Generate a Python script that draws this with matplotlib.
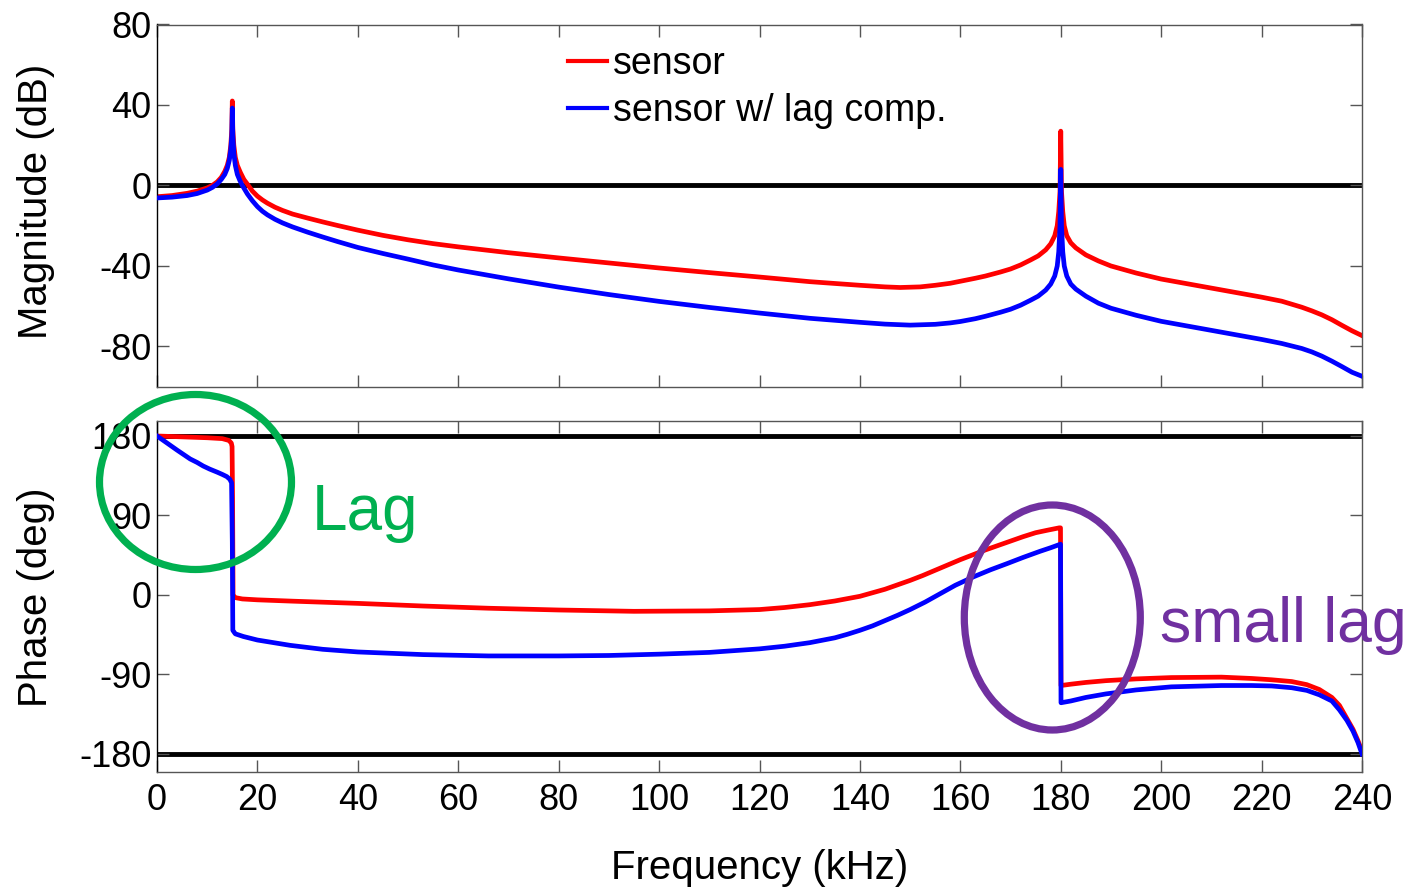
import matplotlib
matplotlib.use("Agg")
import matplotlib.pyplot as plt
from matplotlib.patches import Ellipse

plt.rcParams['font.family'] = ['Liberation Sans', 'DejaVu Sans']

W, H = 1413, 889

# ---------------- data ----------------
mag_red_f = [0, 3, 6, 8, 10, 11, 12, 12.8, 13.5, 14, 14.4, 14.7, 14.9, 15.0,
             15.1, 15.3, 15.6, 16, 16.6, 17.3, 18.2, 19, 20, 21, 22, 23.5, 25, 27, 30, 33, 36,
             40, 45, 50, 55, 60, 70, 80, 90, 100, 110, 120, 130, 140, 145, 148, 152, 155, 158,
             160, 163, 165, 168, 170, 172, 174, 175.5, 177, 178, 178.8, 179.3, 179.6, 179.85,
             180.0, 180.15, 180.4, 180.7, 181.2, 182, 183, 185, 187.5, 190, 195, 200, 210, 220,
             224, 228, 230, 232, 234, 236, 238, 240]
mag_red = [-5.6, -5.0, -3.9, -2.8, -1.2, 0, 1.8, 4, 7, 10, 14, 20, 28, 42,
           28, 20, 14, 10, 6.5, 3, 0, -2.8, -5.3, -7.2, -8.8, -10.8, -12.4, -14.2, -16.2, -18.1, -19.9,
           -22.2, -24.8, -27, -28.9, -30.5, -33.4, -36, -38.5, -41, -43.3, -45.5, -47.8, -49.6, -50.4, -50.7, -50.4, -49.6, -48.6,
           -47.6, -46.1, -45, -43, -41.5, -39.5, -37, -35, -32, -29, -25, -20, -13, -3,
           27, -3, -13, -20, -25, -28.5, -31, -34.5, -37.5, -40, -43.5, -46.5, -51, -55.5,
           -57.5, -60.5, -62.3, -64.3, -66.7, -69.5, -72.2, -74.6]

mag_blue_f = [0, 3, 6, 8, 10, 11, 12, 12.8, 13.5, 14, 14.4, 14.7, 14.9, 15.0,
              15.1, 15.3, 15.6, 16, 16.5, 17, 18, 19, 20, 21, 22, 23.5, 25, 27, 30, 33, 36,
              40, 45, 50, 55, 60, 70, 80, 90, 100, 110, 120, 130, 140, 145, 150, 155, 158,
              160, 163, 165, 168, 170, 172, 174, 175.5, 177, 178, 178.8, 179.3, 179.6, 179.85,
              180.0, 180.15, 180.4, 180.7, 181.2, 182, 183, 185, 187.5, 190, 195, 200, 210, 220,
              224, 228, 230, 232, 234, 236, 238, 240]
mag_blue = [-6.2, -5.8, -5.0, -4.0, -2.3, -1.0, 0.8, 3, 5.5, 8.5, 12.5, 18, 25, 38.5,
            25, 16, 10, 5.5, 2.5, 0, -4.2, -7.6, -10.5, -12.8, -14.6, -16.8, -18.6, -20.6, -23.2, -25.6, -27.9,
            -30.8, -33.8, -36.6, -39.5, -42, -46.4, -50.5, -54.2, -57.6, -60.6, -63.4, -66, -68, -68.9, -69.4, -69, -68.3,
            -67.6, -66.2, -65, -63, -61.5, -59.5, -57, -55, -52, -49, -45, -40, -33, -20,
            8, -20, -33, -40, -45, -49, -51.5, -55, -58.5, -61, -64.5, -67.5, -72, -76.5,
            -78.5, -81, -82.7, -84.8, -87.3, -90, -92.8, -94.8]

ph_red_f = [0, 5, 10, 13, 14.3, 14.8, 14.95, 15.05, 15.15, 15.6, 17, 20, 27, 40, 53, 66, 80, 95,
            110, 120, 125, 130, 135, 140, 142.5, 145, 147.5, 150, 152.5, 155, 157.5, 160, 162.5,
            165, 167.5, 170, 172.5, 175, 177.5, 179.7, 179.95,
            180.05, 182, 185, 189, 195, 202, 212, 218, 222, 226, 229, 231.5, 234, 235.5, 237,
            238.2, 239.2, 240]
ph_red = [180, 179, 178, 177, 175, 172, 168, 110, 0, -3, -4.5, -5.5, -7, -9.5, -12.5, -15, -17, -18.5,
          -18, -16.5, -14.2, -11, -6.8, -1.5, 2.5, 6.5, 11.5, 16.5, 22, 28, 34, 40, 45.5,
          51, 56, 61, 66, 70.5, 73.5, 76, 76,
          -102.5, -101, -99, -97, -95, -93.5, -93, -94.5, -96, -98, -101.5, -107, -116, -125, -140,
          -152, -165, -177]

ph_blue_f = [0, 1, 2, 3, 4, 5.3, 6.6, 8, 9.2, 10.5, 12, 13, 13.9, 14.5, 14.85, 15.0, 15.1, 15.6,
             17.2, 20, 26.5, 33, 40, 53, 66, 80, 90, 100, 110, 115, 120, 125, 130, 135, 137.5,
             140, 142.5, 145, 147.5, 150, 153, 156, 159, 162.6, 166, 169.3, 172.5, 175.9, 178,
             179.7, 179.95, 180.05, 182, 185, 189, 195, 202, 212, 218, 222, 226, 229, 231.5,
             234, 235.5, 237, 238.2, 239.2, 240]
ph_blue = [180, 176, 172, 168, 164, 159, 154, 150, 146, 142.5, 139, 136.5, 134, 131, 127, 60, -40, -44,
           -47, -51, -57, -61.5, -64.5, -67.5, -69, -69, -68.5, -67, -65, -63, -61, -58, -54, -48.5, -44.5,
           -40, -35, -29, -23, -16.5, -8, 1.5, 11, 20.5, 28.5, 35.5, 42.5, 49.5, 53.5,
           57, 57.5, -122, -120, -116, -112, -107.5, -104, -102.5, -102.5, -103, -105, -108, -113,
           -120, -130, -142, -154, -167, -180]

xticks = list(range(0, 241, 20))
mag_ticks = [-80, -40, 0, 40, 80]
ph_ticks = [-180, -90, 0, 90, 180]
legend_labels = ['sensor', 'sensor w/ lag comp.']
ref_mag = [0]
ref_ph = [180, -180]

# ---------------- figure ----------------
fig = plt.figure(figsize=(W / 100, H / 100), dpi=100)

def frac_axes(left, top, right, bottom):
    return fig.add_axes([left / W, 1 - bottom / H, (right - left) / W, (bottom - top) / H])

ax1 = frac_axes(157, 24.5, 1362, 386.7)
ax2 = frac_axes(157, 420.7, 1362, 772)

RED = '#FF0000'
BLUE = '#0000FF'
LW = 3.4

for y in ref_mag:
    ax1.axhline(y, color='black', lw=3.5, zorder=1)
l1, = ax1.plot(mag_red_f, mag_red, color=RED, lw=LW, zorder=2, solid_joinstyle='round')
l2, = ax1.plot(mag_blue_f, mag_blue, color=BLUE, lw=LW, zorder=3, solid_joinstyle='round')

for y in ref_ph:
    ax2.axhline(y, color='black', lw=3.5, zorder=1)
ax2.plot(ph_red_f, ph_red, color=RED, lw=LW, zorder=2, solid_joinstyle='round')
ax2.plot(ph_blue_f, ph_blue, color=BLUE, lw=LW, zorder=3, solid_joinstyle='round')

ax1.set_xlim(0, 240)
ax1.set_ylim(-100, 80)
ax2.set_xlim(0, 240)
ax2.set_ylim(-200.4, 197.3)

for ax in (ax1, ax2):
    ax.set_xticks(xticks)
    ax.tick_params(direction='in', length=8.5, width=1.0, color='#555555',
                   top=True, right=True, labelsize=26, pad=4)
    for s in ax.spines.values():
        s.set_color('#555555')
        s.set_linewidth(1.0)
    ax.spines['left'].set_color('black')

ax1.set_yticks(mag_ticks)
ax1.set_yticklabels([str(v) for v in mag_ticks])
ax1.tick_params(axis='x', labelbottom=False)
ax2.set_yticks(ph_ticks)
ax2.set_yticklabels([str(v) for v in ph_ticks])
ax2.set_xticklabels([str(v) for v in xticks])
ax2.tick_params(axis='x', pad=8)

ax1.set_ylabel('Magnitude (dB)', fontsize=29)
ax1.yaxis.set_label_coords((55 - 157) / 1205, (386.7 - 201) / 362.2)
ax2.set_ylabel('Phase (deg)', fontsize=29)
ax2.yaxis.set_label_coords((55 - 157) / 1205, (772 - 597.5) / 351.3)
ax2.set_xlabel('Frequency (kHz)', fontsize=29)
ax2.xaxis.set_label_coords(0.5, -(879 - 772) / 351.3)
ax2.xaxis.label.set_va('baseline')

leg = ax1.legend([l1, l2], legend_labels, loc='upper left',
                 bbox_to_anchor=((568 - 157) / 1205, (386.7 - 46) / 362.2),
                 frameon=False, fontsize=27, handlelength=1.05, handletextpad=0.15,
                 labelspacing=0.3, borderpad=0, borderaxespad=0)
for h in leg.get_lines():
    h.set_linewidth(3.0)

# annotations
GREEN = '#00B050'
PURPLE = '#7030A0'
fig.patches.append(Ellipse((195.5 / W, 1 - 482 / H), 192 / W, 175 / H, transform=fig.transFigure,
                           fill=False, edgecolor=GREEN, lw=5.2, zorder=10))
fig.patches.append(Ellipse((1052.3 / W, 1 - 617.5 / H), 176 / W, 225 / H, transform=fig.transFigure,
                           fill=False, edgecolor=PURPLE, lw=5.2, zorder=10))
fig.text(312 / W, 1 - 530 / H, 'Lag', color=GREEN, fontsize=46, va='baseline', ha='left')
fig.text(1160 / W, 1 - 641.7 / H, 'small lag', color=PURPLE, fontsize=45, va='baseline', ha='left')

fig.savefig('out.png', dpi=100)
